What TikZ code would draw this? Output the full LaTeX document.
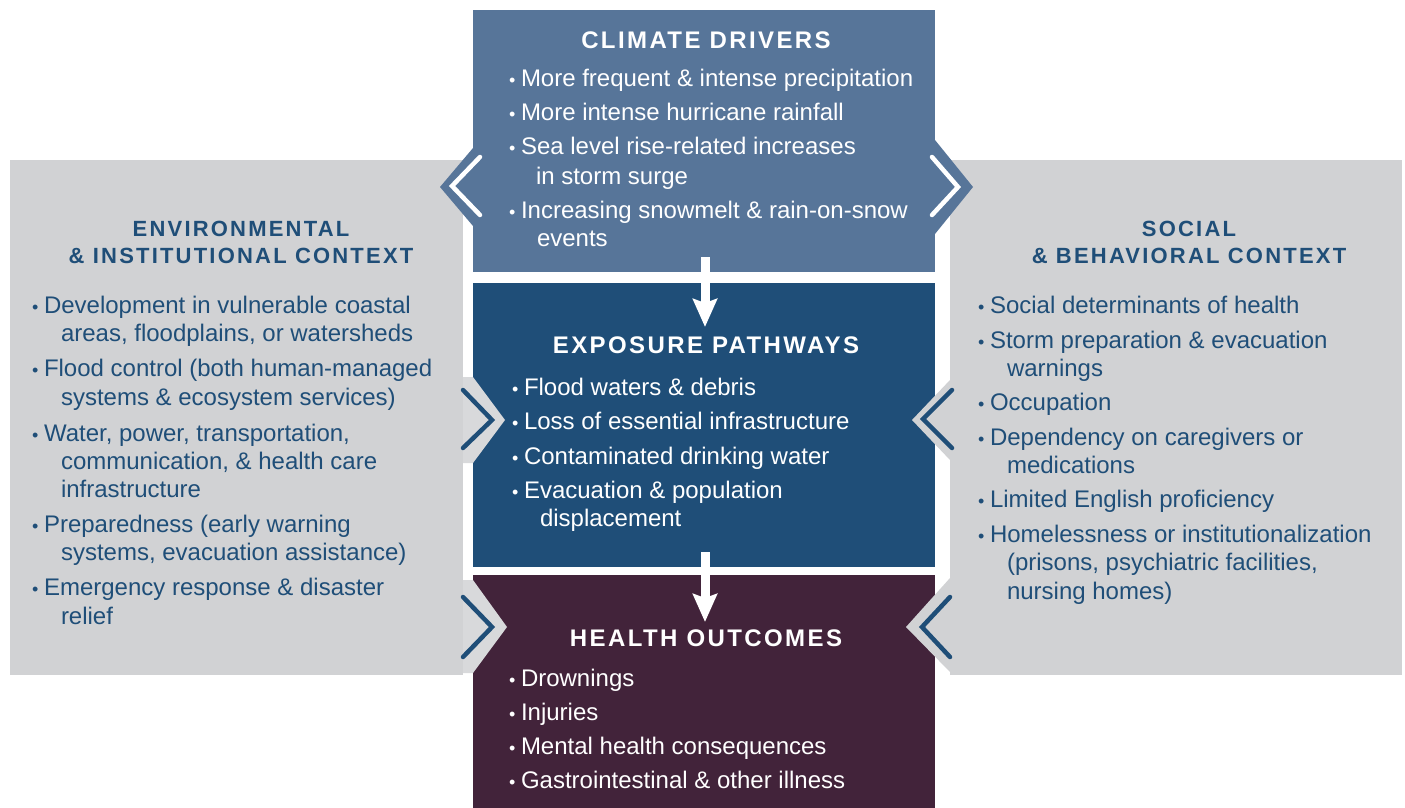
\documentclass[tikz,border=0pt]{standalone}
\usepackage{fontspec}
\setmainfont{Liberation Sans}
\newfontfamily\ttlfont[LetterSpace=10]{Liberation Sans}
\usetikzlibrary{arrows.meta}
\definecolor{climc}{HTML}{577599}
\definecolor{expc}{HTML}{1F4E78}
\definecolor{hlthc}{HTML}{42233A}
\definecolor{greyc}{HTML}{D1D2D4}
\definecolor{bandc}{HTML}{D8D9DB}
\definecolor{darkb}{HTML}{1F4E78}
\newcommand{\bl}[1]{\makebox[13pt][l]{\hspace{1pt}{\fontsize{18}{18}\selectfont •}}#1}
\tikzset{
  txt/.style={anchor=base west, inner sep=0pt, outer sep=0pt, font=\fontsize{24}{29}\selectfont},
  wtxt/.style={txt, text=white},
  btxt/.style={txt, text=darkb},
  ttl/.style={anchor=base, inner sep=0pt, font=\ttlfont\bfseries\fontsize{24}{29}\selectfont, text=white},
  sttl/.style={anchor=base, inner sep=0pt, font=\ttlfont\bfseries\fontsize{22}{27}\selectfont, text=darkb},
  box/.style={rectangle, inner sep=0pt, outer sep=0pt, draw=none},
  flowarr/.style={draw=white, line width=9pt, -{Stealth[width=24pt,length=28pt,inset=4pt]}},
  chevW/.style={draw=white, line width=4.5pt, line cap=round, line join=miter},
  chevB/.style={draw=darkb, line width=4.5pt, line cap=round, line join=miter},
}
\begin{document}
\begin{tikzpicture}[x=1pt,y=-1pt]
\useasboundingbox (0,0) rectangle (1405,808);
\fill[white] (0,0) rectangle (1405,808);
% side panels
\node[box, fill=greyc, minimum width=453pt, minimum height=515pt] (envp) at (236.5,417.5) {};
\node[box, fill=greyc, minimum width=452pt, minimum height=515pt] (socp) at (1176,417.5) {};
% centre boxes
\node[box, fill=climc, minimum width=462pt, minimum height=262pt] (clim) at (704,141) {};
\node[box, fill=expc, minimum width=462pt, minimum height=284pt] (expo) at (704,425) {};
\node[box, fill=hlthc, minimum width=462pt, minimum height=233pt] (hlth) at (704,691.5) {};
% climate points into side panels
\fill[climc] (473,148) -- (440,187) -- (473,226) -- cycle;
\fill[climc] (935,140) -- (973,187) -- (935,234) -- cycle;
% grey points into centre boxes
\fill[bandc] (463,377) -- (473,377) -- (505,420) -- (473,463) -- (463,463) -- cycle;
\fill[greyc] (950,380) -- (912,420) -- (950,460) -- cycle;
\fill[bandc] (463,580) -- (473,580) -- (507,627) -- (473,673) -- (463,673) -- cycle;
\fill[greyc] (950,578) -- (906,627) -- (950,672) -- cycle;
% chevron strokes
\draw[chevW] (480,157) -- (452,186) -- (480,215);
\draw[chevW] (932,157) -- (958,187) -- (932,215);
\draw[chevB] (463,390) -- (492,420) -- (463,448);
\draw[chevB] (952,390) -- (923,419) -- (952,448);
\draw[chevB] (463,597) -- (492,627) -- (463,657);
\draw[chevB] (950,597) -- (922,627) -- (950,657);
% flow arrows
\coordinate (a1s) at (705,257);
\coordinate (a1e) at (705,327);
\coordinate (a2s) at (705,552);
\coordinate (a2e) at (705,622);
\draw[flowarr] (a1s) -- (a1e);
\draw[flowarr] (a2s) -- (a2e);
% climate text
\node[ttl] (climT) at (706,48.5) {CLIMATE DRIVERS};
\node[wtxt] (c1) at (508,86) {\bl{More frequent \& intense precipitation}};
\node[wtxt] (c2) at (508,120) {\bl{More intense hurricane rainfall}};
\node[wtxt] (c3) at (508,154) {\bl{Sea level rise-related increases}};
\node[wtxt] (c3b) at (536,184) {in storm surge};
\node[wtxt] (c4) at (508,218) {\bl{Increasing snowmelt \& rain-on-snow}};
\node[wtxt] (c4b) at (537,246) {events};
% exposure text
\node[ttl] (expT) at (706,353.5) {EXPOSURE PATHWAYS};
\node[wtxt] (e1) at (511,395) {\bl{Flood waters \& debris}};
\node[wtxt] (e2) at (511,429) {\bl{Loss of essential infrastructure}};
\node[wtxt] (e3) at (511,464) {\bl{Contaminated drinking water}};
\node[wtxt] (e4) at (511,498) {\bl{Evacuation \& population}};
\node[wtxt] (e4b) at (540,526) {displacement};
% health text
\node[ttl] (hlthT) at (706,646.5) {HEALTH OUTCOMES};
\node[wtxt] (h1) at (508,686) {\bl{Drownings}};
\node[wtxt] (h2) at (508,720) {\bl{Injuries}};
\node[wtxt] (h3) at (508,754) {\bl{Mental health consequences}};
\node[wtxt] (h4) at (508,788) {\bl{Gastrointestinal \& other illness}};
% environmental panel text
\node[sttl] (envT1) at (241,236) {ENVIRONMENTAL};
\node[sttl] (envT2) at (241,263) {\& INSTITUTIONAL CONTEXT};
\node[btxt] (l1) at (31,313) {\bl{Development in vulnerable coastal}};
\node[btxt] (l1b) at (61,341) {areas, floodplains, or watersheds};
\node[btxt] (l2) at (31,376) {\bl{Flood control (both human-managed}};
\node[btxt] (l2b) at (61,405) {systems \& ecosystem services)};
\node[btxt] (l3) at (31,441) {\bl{Water, power, transportation,}};
\node[btxt] (l3b) at (61,469) {communication, \& health care};
\node[btxt] (l3c) at (61,497) {infrastructure};
\node[btxt] (l4) at (31,532) {\bl{Preparedness (early warning}};
\node[btxt] (l4b) at (61,560) {systems, evacuation assistance)};
\node[btxt] (l5) at (31,595) {\bl{Emergency response \& disaster}};
\node[btxt] (l5b) at (61,624) {relief};
% social panel text
\node[sttl] (socT1) at (1189,236) {SOCIAL};
\node[sttl] (socT2) at (1189,263) {\& BEHAVIORAL CONTEXT};
\node[btxt] (r1) at (977,313) {\bl{Social determinants of health}};
\node[btxt] (r2) at (977,348) {\bl{Storm preparation \& evacuation}};
\node[btxt] (r2b) at (1007,376) {warnings};
\node[btxt] (r3) at (977,410) {\bl{Occupation}};
\node[btxt] (r4) at (977,445) {\bl{Dependency on caregivers or}};
\node[btxt] (r4b) at (1007,473) {medications};
\node[btxt] (r5) at (977,507) {\bl{Limited English proficiency}};
\node[btxt] (r6) at (977,542) {\bl{Homelessness or institutionalization}};
\node[btxt] (r6b) at (1007,570) {(prisons, psychiatric facilities,};
\node[btxt] (r6c) at (1007,599) {nursing homes)};
\end{tikzpicture}
\end{document}
